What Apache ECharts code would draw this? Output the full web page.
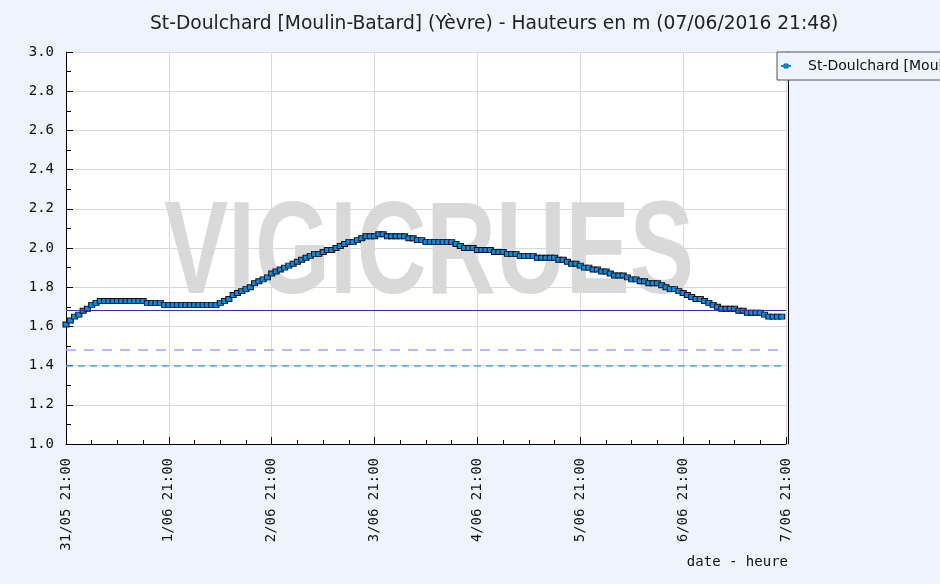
<!DOCTYPE html>
<html><head><meta charset="utf-8">
<script src="https://cdn.jsdelivr.net/npm/echarts@6/dist/echarts.min.js"></script>
<style>html,body{margin:0;padding:0;background:#eef3fd}#c{width:940px;height:584px}</style>
</head><body><div id="c"></div>
<script>
const titleText = "St-Doulchard [Moulin-Batard] (Yèvre) - Hauteurs en m (07/06/2016 21:48)";
const seriesName = "St-Doulchard [Moulin-Batard]";
const axisTitle = "date - heure";
const watermarkText = "VIGICRUES";
// x ticks: one per day at 21:00 (x value = hours since 31/05 21:00)
const tickLabels = ["31/05 21:00","1/06 21:00","2/06 21:00","3/06 21:00","4/06 21:00","5/06 21:00","6/06 21:00","7/06 21:00"];
// hourly water levels (m), starting 31/05 21:00
const levels = [
 1.61,1.63,1.65,1.66,1.68,1.69,1.71,1.72,
 1.73,1.73,1.73,1.73,1.73,1.73,1.73,1.73,1.73,1.73,1.73,
 1.72,1.72,1.72,1.72,
 1.71,1.71,1.71,1.71,1.71,1.71,1.71,1.71,1.71,1.71,1.71,1.71,1.71,
 1.72,1.73,1.74,1.76,1.77,1.78,1.79,1.80,1.82,1.83,1.84,1.85,
 1.87,1.88,1.89,1.90,1.91,1.92,1.93,1.94,1.95,1.96,1.97,1.97,
 1.98,1.99,1.99,2.00,2.01,2.02,2.03,2.03,2.04,2.05,2.06,2.06,
 2.06,2.07,2.07,2.06,2.06,2.06,2.06,2.06,2.05,2.05,2.04,2.04,
 2.03,2.03,2.03,2.03,2.03,2.03,2.03,2.02,2.01,2.00,2.00,2.00,
 1.99,1.99,1.99,1.99,1.98,1.98,1.98,1.97,1.97,1.97,1.96,1.96,
 1.96,1.96,1.95,1.95,1.95,1.95,1.95,1.94,1.94,1.93,1.92,1.92,
 1.91,1.90,1.90,1.89,1.89,1.88,1.88,1.87,1.86,1.86,1.86,1.85,
 1.84,1.84,1.83,1.83,1.82,1.82,1.82,1.81,1.80,1.79,1.79,1.78,
 1.77,1.76,1.75,1.74,1.74,1.73,1.72,1.71,1.70,1.69,1.69,1.69,
 1.69,1.68,1.68,1.67,1.67,1.67,1.67,1.66,1.65,1.65,1.65,1.65
];
const thresholdValues = [1.68, 1.48, 1.40];
const thresholdColors = ["#33339a", "#a0a0ff", "#3fb0f0"];
const thresholdTypes = ["solid", [10, 8], [7, 5]];

const chart = echarts.init(document.getElementById('c'), null, {renderer: 'canvas'});
const mono = "DejaVu Sans Mono";
const option = {
  backgroundColor: '#eef3fd',
  animation: false,
  title: {
    text: titleText, left: 145, top: 10,
    textStyle: {fontFamily: 'DejaVu Sans', fontSize: 18.7, fontWeight: 'normal', color: '#222'}
  },
  legend: {
    data: [seriesName], left: 777, top: 52,
    padding: [7, 20, 7, 3],
    borderColor: '#555', borderWidth: 1, backgroundColor: '#eef3fd',
    itemWidth: 10, itemHeight: 5,
    lineStyle: {color: '#0a8de8', width: 2},
    itemStyle: {color: '#0a8de8', borderColor: '#0a6cb8', borderWidth: 1},
    textStyle: {fontFamily: 'DejaVu Sans', fontSize: 14, color: '#111', padding: [0, 0, 0, 12]}
  },
  grid: {left: 66, top: 52, width: 720, height: 392, show: true, backgroundColor: '#fff', borderWidth: 0, z: 0},
  graphic: [
    {type: 'text', z: 1, x: 429, y: 257, scaleX: 0.73,
     style: {text: watermarkText, fontFamily: 'Liberation Sans', fontWeight: 'bold', fontSize: 132,
             fill: '#d9d9d9', align: 'center', verticalAlign: 'middle'}},
    {type: 'text', z: 5, x: 788, y: 562,
     style: {text: axisTitle, fontFamily: mono, fontSize: 14, fill: '#111', align: 'right', verticalAlign: 'middle'}}
  ],
  xAxis: {
    type: 'value', min: 0, max: 168, interval: 24, z: 2,
    axisLine: {show: true, onZero: false, lineStyle: {color: '#000', width: 1}},
    axisTick: {show: true, inside: true, length: 7, lineStyle: {color: '#000'}},
    minorTick: {show: true, splitNumber: 4, length: 4, lineStyle: {color: '#000'}},
    splitLine: {show: true, lineStyle: {color: '#d9d9d9', width: 1}},
    axisLabel: {rotate: 90, margin: 14, fontFamily: mono, fontSize: 14, color: '#111',
      formatter: v => tickLabels[Math.round(v / 24)]}
  },
  yAxis: [{
    type: 'value', min: 1.0, max: 3.0, interval: 0.2, z: 2,
    axisLine: {show: true, lineStyle: {color: '#000', width: 1}},
    axisTick: {show: true, inside: true, length: 7, lineStyle: {color: '#000'}},
    minorTick: {show: true, splitNumber: 2, length: 5, lineStyle: {color: '#000'}},
    splitLine: {show: true, lineStyle: {color: '#d9d9d9', width: 1}},
    axisLabel: {margin: 12, fontFamily: mono, fontSize: 14, color: '#111', formatter: v => v.toFixed(1)}
  }, {
    type: 'value', min: 1.0, max: 3.0, position: 'right', offset: 2, z: 2,
    axisLine: {show: true, lineStyle: {color: '#000', width: 1}},
    axisTick: {show: false}, axisLabel: {show: false}, splitLine: {show: false}
  }],
  series: [{
    name: seriesName, type: 'line', z: 3,
    data: levels.map((v, i) => [i, v]),
    symbol: 'rect', symbolSize: [6, 5], showAllSymbol: true,
    itemStyle: {color: '#0a8de8', borderColor: '#111', borderWidth: 1},
    lineStyle: {color: '#111', width: 1},
    markLine: {
      silent: true, symbol: 'none', label: {show: false},
      data: thresholdValues.map((v, i) => ({yAxis: v, lineStyle: {color: thresholdColors[i], type: thresholdTypes[i], width: i === 0 ? 1 : 1.5}}))
    }
  }]
};
chart.setOption(option);
</script></body></html>
